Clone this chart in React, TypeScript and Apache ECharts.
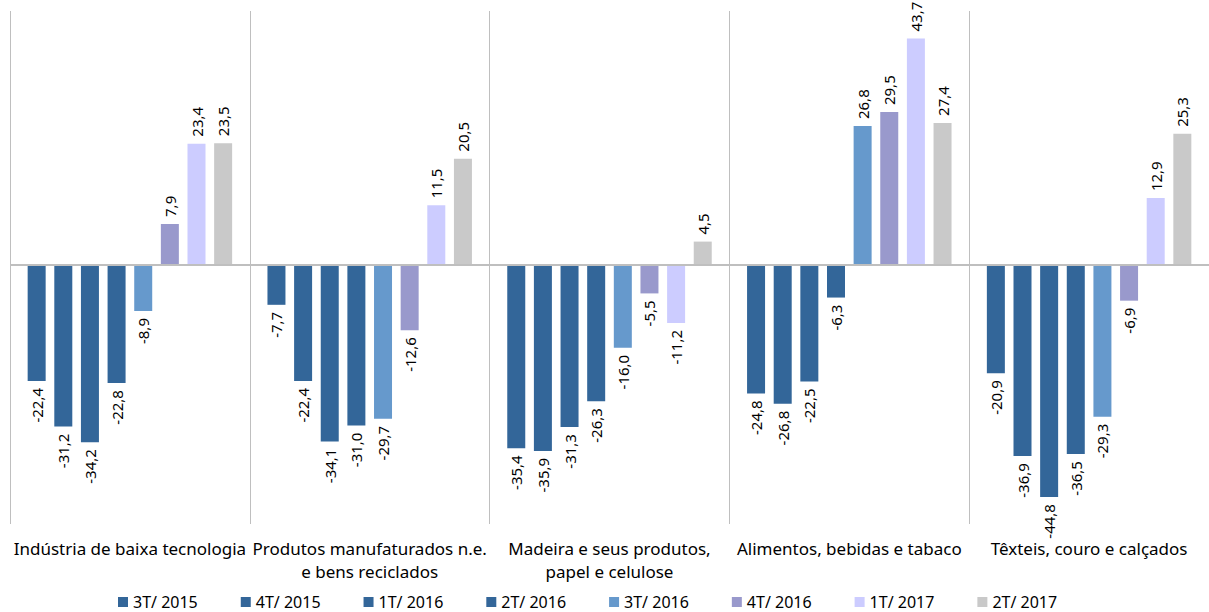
import React, { useEffect, useRef } from "react";
import * as echarts from "echarts";

const categories = [
  "Indústria de baixa tecnologia",
  "Produtos manufaturados n.e.\ne bens reciclados",
  "Madeira e seus produtos,\npapel e celulose",
  "Alimentos, bebidas e tabaco",
  "Têxteis, couro e calçados",
];

const seriesNames = ["3T/ 2015", "4T/ 2015", "1T/ 2016", "2T/ 2016", "3T/ 2016", "4T/ 2016", "1T/ 2017", "2T/ 2017"];

const s3T2015 = [-22.4, -7.7, -35.4, -24.8, -20.9];
const s4T2015 = [-31.2, -22.4, -35.9, -26.8, -36.9];
const s1T2016 = [-34.2, -34.1, -31.3, -22.5, -44.8];
const s2T2016 = [-22.8, -31.0, -26.3, -6.3, -36.5];
const s3T2016 = [-8.9, -29.7, -16.0, 26.8, -29.3];
const s4T2016 = [7.9, -12.6, -5.5, 29.5, -6.9];
const s1T2017 = [23.4, 11.5, -11.2, 43.7, 12.9];
const s2T2017 = [23.5, 20.5, 4.5, 27.4, 25.3];

const seriesValues = [s3T2015, s4T2015, s1T2016, s2T2016, s3T2016, s4T2016, s1T2017, s2T2017];
const colors = ["#336699", "#336699", "#336699", "#336699", "#6699CC", "#9999CC", "#CCCCFF", "#C9C9C9"];

const FONT = "Noto Sans";

export default function App() {
  const ref = useRef<HTMLDivElement>(null);
  useEffect(() => {
    if (!ref.current) return;
    const chart = echarts.init(ref.current, undefined, { renderer: "svg" });
    const series = seriesNames.map((name, i) => ({
      name,
      type: "bar",
      barWidth: 18,
      barGap: "48%",
      itemStyle: { color: colors[i] },
      data: seriesValues[i].map((v) => ({
        value: v,
        label: {
          show: true,
          rotate: 90,
          position: v >= 0 ? "top" : "bottom",
          align: v >= 0 ? "left" : "right",
          verticalAlign: "middle",
          distance: 7,
          color: "#000",
          fontFamily: FONT,
          fontSize: 15,
          formatter: (p: any) => String(p.value.toFixed(1)).replace(".", ","),
        },
      })),
    }));
    chart.setOption({
      animation: false,
      color: colors,
      grid: { left: 10, width: 1202, top: 11, height: 513, containLabel: false },
      legend: {
        data: seriesNames,
        left: 118,
        top: 594,
        padding: 0,
        itemWidth: 10,
        itemHeight: 10,
        itemGap: 43,
        icon: "rect",
        textStyle: { fontFamily: FONT, fontSize: 16, lineHeight: 16, color: "#000" },
      },
      xAxis: {
        type: "category",
        data: categories,
        position: "bottom",
        axisLine: { show: false },
        axisTick: { show: false },
        splitLine: { show: true, interval: 0, lineStyle: { color: "#BFBFBF", width: 1 } },
        axisLabel: {
          interval: 0,
          margin: 13,
          fontFamily: FONT,
          fontSize: 17,
          lineHeight: 23,
          color: "#000",
        },
      },
      yAxis: {
        type: "value",
        min: -50,
        max: 49,
        show: true,
        axisLabel: { show: false },
        axisTick: { show: false },
        axisLine: { show: false },
        splitLine: { show: false },
      },
      series: [
        ...series,
        {
          type: "line",
          name: "zero",
          data: [],
          markLine: {
            silent: true,
            symbol: "none",
            label: { show: false },
            lineStyle: { color: "#BFBFBF", width: 2, type: "solid" },
            data: [{ yAxis: 0 }],
          },
        },
      ],
    });
    return () => chart.dispose();
  }, []);
  return <div ref={ref} style={{ position: "absolute", left: 0, top: 0, width: 1209, height: 612 }} />;
}
